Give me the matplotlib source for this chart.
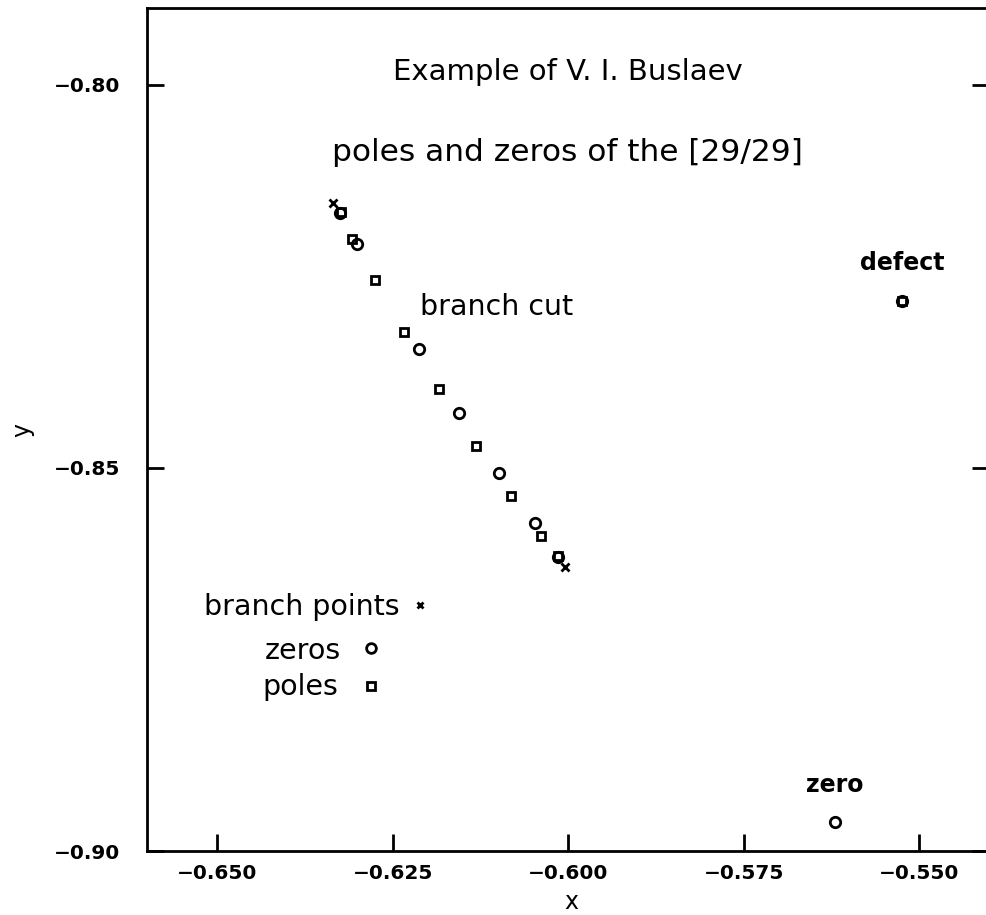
#!/usr/bin/env python3
# poles and zeros of the [29/29] Pade approximant, example of V. I. Buslaev
import matplotlib
matplotlib.use("Agg")
import matplotlib.pyplot as plt

# branch points (crosses)
bp_x = [-0.63350, -0.60046]
bp_y = [-0.81546, -0.86298]

# zeros (circles)
zero_x = [-0.63251, -0.63009, -0.62125, -0.61556, -0.60986, -0.60473, -0.60145,
          -0.55245, -0.56199]
zero_y = [-0.81676, -0.82081, -0.83452, -0.84287, -0.85070, -0.85723, -0.86167,
          -0.82825, -0.89627]

# poles (squares)
pole_x = [-0.63240, -0.63080, -0.62752, -0.62339, -0.61840, -0.61313, -0.60815,
          -0.60387, -0.60145, -0.55245]
pole_y = [-0.81665, -0.82016, -0.82551, -0.83230, -0.83974, -0.84718, -0.85371,
          -0.85893, -0.86150, -0.82825]

# legend symbols
leg_x = [-0.62111, -0.62809, -0.62809]
leg_y = [-0.86794, -0.87355, -0.87851]

xticks = [-0.650, -0.625, -0.600, -0.575, -0.550]
yticks = [-0.80, -0.85, -0.90]

fig = plt.figure(figsize=(9.87, 9.15), dpi=100)
ax = fig.add_axes([0.1489, 0.0699, 0.8535, 0.9214])

mk = dict(linestyle="none", color="black", markerfacecolor="none")
ax.plot(bp_x, bp_y, marker="x", markersize=6, markeredgewidth=2, **mk)
ax.plot(zero_x, zero_y, marker="o", markersize=7.5, markeredgewidth=2, **mk)
ax.plot(pole_x, pole_y, marker="s", markersize=5.5, markeredgewidth=2, **mk)
ax.plot(leg_x[:1], leg_y[:1], marker="x", markersize=5, markeredgewidth=2, **mk)
ax.plot(leg_x[1:2], leg_y[1:2], marker="o", markersize=7, markeredgewidth=2, **mk)
ax.plot(leg_x[2:], leg_y[2:], marker="s", markersize=5.5, markeredgewidth=2, **mk)

fs = 20.5
ax.text(-0.60003, -0.79836, "Example of V. I. Buslaev", fontsize=21,
        ha="center", va="center")
ax.text(-0.60017, -0.80880, "poles and zeros of the [29/29]", fontsize=22.5,
        ha="center", va="center")
ax.text(-0.62111, -0.82903, "branch cut", fontsize=fs, ha="left", va="center")
ax.text(-0.55245, -0.82329, "defect", fontsize=17, fontweight="bold",
        ha="center", va="center")
ax.text(-0.56199, -0.89144, "zero", fontsize=17, fontweight="bold",
        ha="center", va="center")
ax.text(-0.62396, -0.86820, "branch points", fontsize=fs, ha="right", va="center")
ax.text(-0.63236, -0.87394, "zeros", fontsize=fs, ha="right", va="center")
ax.text(-0.63279, -0.87864, "poles", fontsize=fs, ha="right", va="center")

ax.set_xlim(-0.66, -0.54)
ax.set_ylim(-0.90, -0.79)
ax.set_xticks(xticks)
ax.set_yticks(yticks)
ax.set_xticklabels(["\u2212%.3f" % abs(v) for v in xticks], fontweight="bold")
ax.set_yticklabels(["\u2212%.2f" % abs(v) for v in yticks], fontweight="bold")
ax.tick_params(direction="in", length=12, width=2, labelsize=14.5, pad=19,
               right=True)
ax.tick_params(axis="x", pad=9)
for s in ax.spines.values():
    s.set_linewidth(2)

ax.set_xlabel("x", fontsize=17, va="baseline")
ax.set_ylabel("y", fontsize=17, va="center")
ax.xaxis.set_label_coords(0.5036, -0.0687)
ax.yaxis.set_label_coords(-0.148, 0.5)

fig.savefig("out.png", dpi=100)
